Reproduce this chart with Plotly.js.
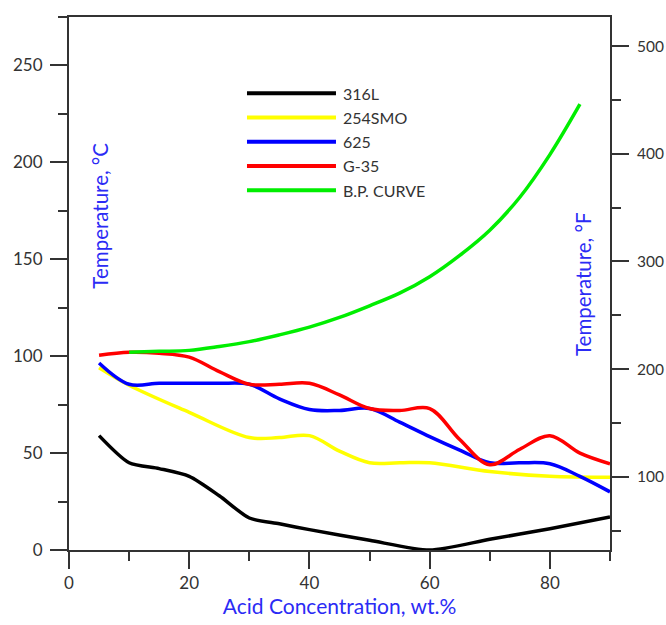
<!DOCTYPE html>
<html>
<head>
<meta charset="utf-8">
<script src="https://cdn.plot.ly/plotly-3.0.1.min.js"></script>
<style>html,body{margin:0;padding:0;background:#fff}#chart{width:666px;height:625px}</style>
</head>
<body>
<div id="chart"></div>
<script>
// ---- data ----
var seriesNames = ['316L', '254SMO', '625', 'G-35', 'B.P. CURVE'];

var x316L = [5, 10, 15, 20, 25, 30, 35, 40, 50, 60, 70, 80, 90];
var y316L = [59, 45, 42, 38, 28, 16.5, 13.5, 10.5, 5, 0, 5.5, 11, 17];

var x254SMO = [5, 10, 20, 30, 35, 40, 45, 50, 55, 60, 70, 80, 90];
var y254SMO = [94, 85, 71, 58, 58, 59, 51, 45, 45, 45, 40.5, 38, 37.5];

var x625 = [5, 10, 15, 20, 25, 30, 35, 40, 45, 50, 55, 60, 65, 70, 75, 80, 85, 90];
var y625 = [96.5, 85.5, 86, 86, 86, 85.5, 78, 72.5, 72, 73, 66, 58.5, 51.5, 45, 45, 44.5, 38, 30];

var xG35 = [5, 10, 15, 20, 25, 30, 35, 40, 45, 50, 55, 60, 65, 70, 75, 80, 85, 90];
var yG35 = [100.5, 102, 101.5, 99.5, 92, 85.5, 85.5, 86, 80, 73, 72, 73, 57, 44, 52, 59, 50, 44.5];

var xBP = [10, 15, 20, 25, 30, 35, 40, 45, 50, 55, 60, 65, 70, 75, 80, 85];
var yBP = [102, 102.5, 103, 105, 107.5, 111, 115, 120, 126, 132.5, 141, 152, 165, 182, 204, 230];

var xTicks = [0, 20, 40, 60, 80];
var yTicksC = [0, 50, 100, 150, 200, 250];
var yTicksF = [100, 200, 300, 400, 500];

// ---- styles ----
var colors = ['#000000', '#ffff00', '#0000ff', '#ff0000', '#00ee00'];
var smooth = [0.7, 1, 1, 1, 1];
var xs = [x316L, x254SMO, x625, xG35, xBP];
var ys = [y316L, y254SMO, y625, yG35, yBP];

var traces = seriesNames.map(function (n, i) {
  return {
    x: xs[i], y: ys[i], name: n, type: 'scatter', mode: 'lines',
    line: {color: colors[i], width: 3.5, shape: 'spline', smoothing: smooth[i]},
    hoverinfo: 'skip', showlegend: false
  };
});
// empty trace so the °F axis is drawn
traces.push({x: [], y: [], yaxis: 'y2', type: 'scatter', mode: 'lines', showlegend: false, hoverinfo: 'skip'});

var FONT = 'Lato, "Open Sans", sans-serif';
var BLUE = '#2b2bf5';
var AX = '#333333';

var cMax = 275;
var shapes = [], annotations = [];
// legend built from series names / colours
var legX0 = 0.329, legX1 = 0.4935, legTextX = 0.502, legY0 = 0.857, legStep = 0.0455;
seriesNames.forEach(function (n, i) {
  var yy = legY0 - i * legStep;
  shapes.push({type: 'line', xref: 'paper', yref: 'paper', x0: legX0, x1: legX1, y0: yy, y1: yy,
    line: {color: colors[i], width: 4}});
  annotations.push({xref: 'paper', yref: 'paper', x: legTextX, y: yy, text: n, showarrow: false,
    xanchor: 'left', yanchor: 'middle', font: {family: FONT, size: 16, color: '#333'}});
});
annotations.push({xref: 'paper', yref: 'paper', x: 0.057, y: 0.627, text: 'Temperature, °C', textangle: -90,
  showarrow: false, xanchor: 'center', yanchor: 'middle', font: {family: FONT, size: 20.5, color: BLUE}});
annotations.push({xref: 'paper', yref: 'paper', x: 0.950, y: 0.499, text: 'Temperature, °F', textangle: -90,
  showarrow: false, xanchor: 'center', yanchor: 'middle', font: {family: FONT, size: 20.5, color: BLUE}});

var axCommon = {
  showgrid: false, zeroline: false, showline: true, linecolor: AX, linewidth: 2,
  ticks: 'outside', ticklen: 17, tickwidth: 2, tickcolor: AX,
  tickfont: {family: FONT, size: 17, color: '#333'}
};

var layout = {
  width: 666, height: 625,
  margin: {l: 69, r: 56, t: 17, b: 75},
  paper_bgcolor: '#fff', plot_bgcolor: '#fff',
  showlegend: false,
  xaxis: Object.assign({}, axCommon, {
    range: [0, 90], tickvals: xTicks, mirror: true,
    minor: {dtick: 10, tick0: 0, ticks: 'outside', ticklen: 9, tickwidth: 2, tickcolor: AX},
    title: {text: 'Acid Concentration, wt.%', font: {family: FONT, size: 21, color: BLUE}, standoff: 2}
  }),
  yaxis: Object.assign({}, axCommon, {
    range: [0, cMax], tickvals: yTicksC, ticklabelstandoff: 4,
    minor: {dtick: 25, tick0: 0, ticks: 'outside', ticklen: 9, tickwidth: 2, tickcolor: AX}
  }),
  yaxis2: Object.assign({}, axCommon, {
    range: [32, cMax * 9 / 5 + 32], tickvals: yTicksF, overlaying: 'y', side: 'right', anchor: 'x',
    ticklabelstandoff: 5, tickfont: {family: FONT, size: 15.5, color: '#333'},
    minor: {dtick: 50, tick0: 0, ticks: 'outside', ticklen: 9, tickwidth: 2, tickcolor: AX}
  }),
  shapes: shapes,
  annotations: annotations
};

Plotly.newPlot('chart', traces, layout, {displayModeBar: false, staticPlot: true});
</script>
</body>
</html>
